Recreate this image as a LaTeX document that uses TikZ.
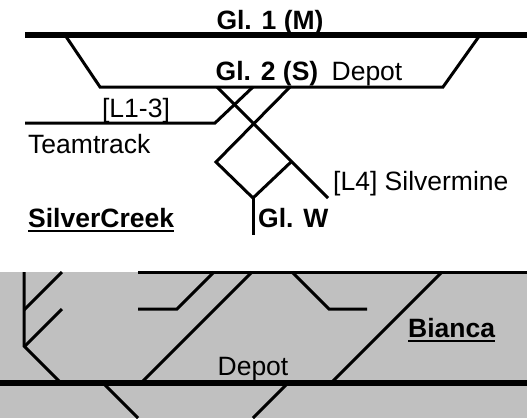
\documentclass[tikz,border=0pt]{standalone}
\usepackage{fontspec}
\setmainfont{Liberation Sans}
\definecolor{bggray}{HTML}{C0C0C0}
\begin{document}
\begin{tikzpicture}[x=1pt,y=-1pt,
  trk/.style={line width=3pt,line cap=butt,line join=miter},
  main/.style={line width=6.5pt,line cap=butt},
  lbl/.style={inner sep=0pt,font=\fontsize{26.5}{30}\selectfont},
  blbl/.style={lbl,font=\fontsize{26.5}{30}\selectfont\bfseries},
  uline/.style={line width=2pt}]
\useasboundingbox (0,0) rectangle (527,418);
% upper station
\draw[main] (25,35) -- (527,35);
\draw[trk] (65,35) -- (100,87) -- (443,87) -- (480,35);
\draw[trk] (217,87) -- (328,198);
\draw[trk] (290,87) -- (216,162) -- (253,198) -- (291,162);
\draw[trk] (25,123) -- (215,123) -- (253,87);
\draw[trk] (253,198) -- (253,235);
\node[blbl,anchor=base] (g1) at (270,29) {Gl. 1 (M)};
\node[blbl,anchor=base] (g2) at (267,80) {Gl. 2 (S)};
\node[lbl,anchor=base] (dep1) at (367,80) {Depot};
\node[lbl,anchor=base] (l13) at (136,117) {[L1-3]};
\node[lbl,anchor=base west] (tt) at (28,153) {Teamtrack};
\node[lbl,anchor=base west] (l4) at (333,190) {[L4] Silvermine};
\node[blbl,anchor=base west] (sc) at (28,227) {SilverCreek};
\draw[uline] ([yshift=-3.5pt]sc.base west) -- ([yshift=-3.5pt]sc.base east);
\node[blbl,anchor=base west] (gw) at (258,227) {Gl. W};
% lower station
\fill[bggray] (0,272) rectangle (527,418);
\draw[trk] (138,272) -- (527,272);
\draw[main] (0,383) -- (527,383);
\draw[trk] (24,272) -- (24,346) -- (61,383);
\draw[trk] (62,272) -- (24,310);
\draw[trk] (62,309) -- (24,347);
\draw[trk] (138,309) -- (177,309) -- (214,272);
\draw[trk] (252,272) -- (141,383);
\draw[trk] (292,272) -- (329,309) -- (367,309);
\draw[trk] (442,272) -- (331,383);
\draw[trk] (103,383) -- (138,418);
\draw[trk] (288,383) -- (253,418);
\node[lbl,anchor=base] (dep2) at (253,375) {Depot};
\node[blbl,anchor=base west] (bi) at (408,337) {Bianca};
\draw[uline] ([yshift=-3.5pt]bi.base west) -- ([yshift=-3.5pt]bi.base east);
\end{tikzpicture}
\end{document}
